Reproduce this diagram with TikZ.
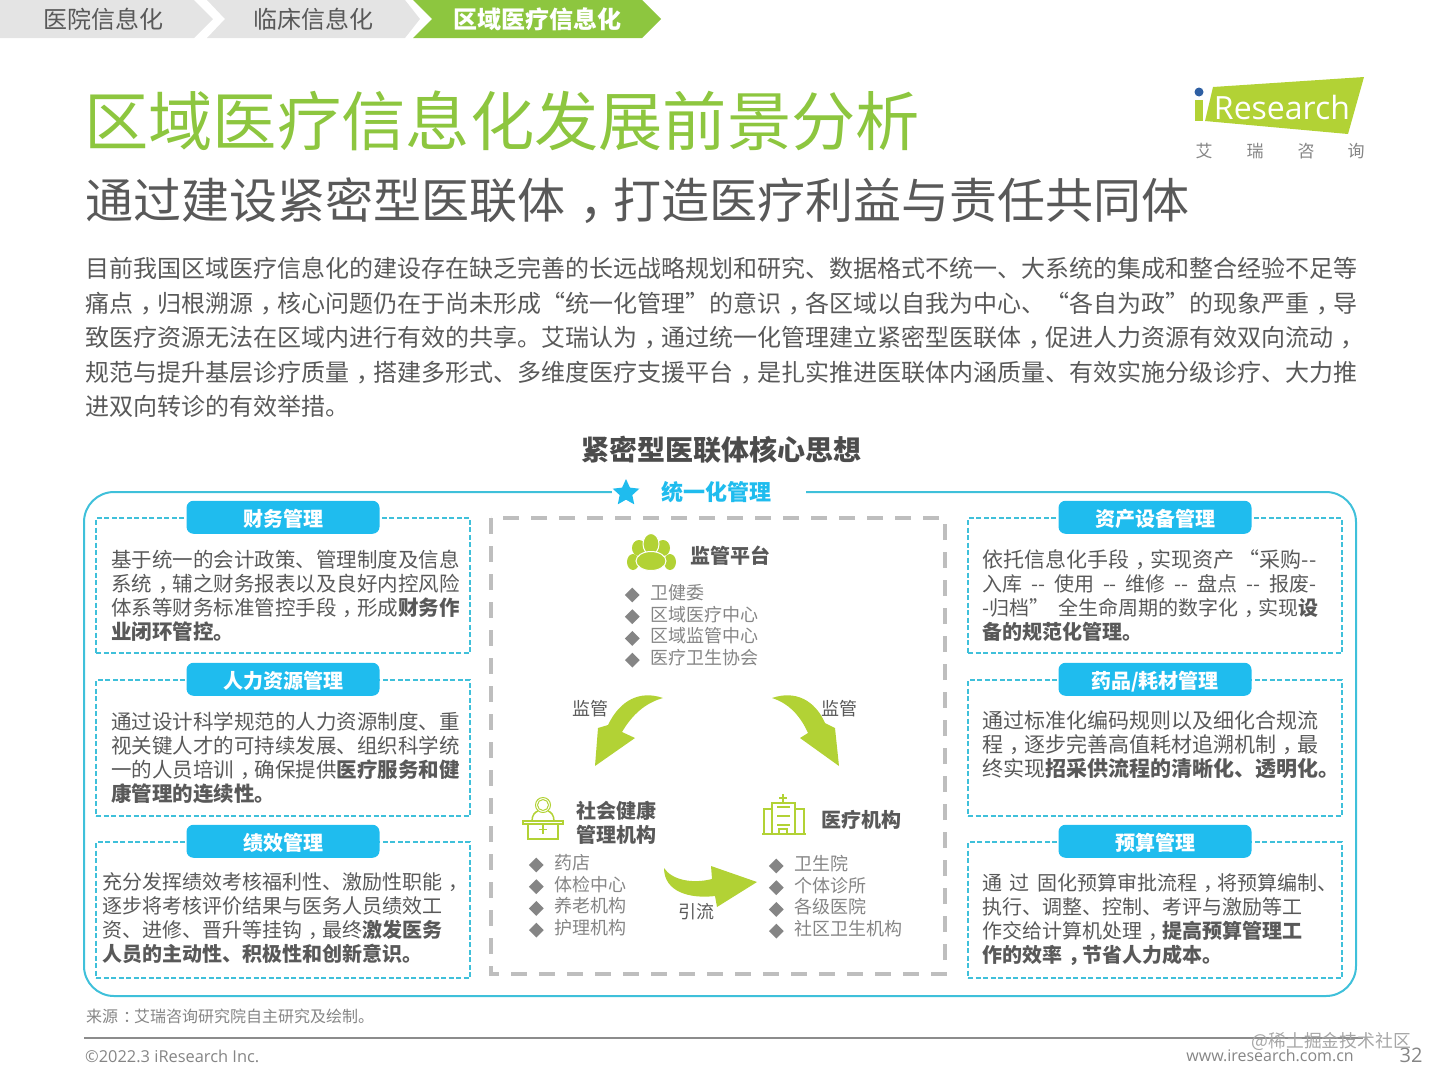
\documentclass[tikz,border=0pt]{standalone}
\usepackage{fontspec}
\setmainfont{Noto Sans CJK SC}
\newfontfamily\latinfont{Open Sans}
\usepackage{tikz}
\usetikzlibrary{shapes.geometric, positioning}
\definecolor{tabgray}{HTML}{E4E4E4}
\definecolor{tabgreen}{HTML}{8DC63F}
\definecolor{limegreen}{HTML}{B2D235}
\definecolor{skyblue}{HTML}{1FBCEE}
\definecolor{framecyan}{HTML}{3FC0DA}
\definecolor{bodygray}{HTML}{595959}
\definecolor{listgray}{HTML}{858585}
\definecolor{dashgray}{HTML}{BEBEBE}
\definecolor{logoblue}{HTML}{2E5FA3}
\newcommand{\pxfont}[2]{\fontsize{#1}{#2}\selectfont}
\newcommand{\dblhyph}{\kern4.5pt\ -{}-\ \kern4.5pt}
% full-width marks sit in the middle of their cell
\catcode`，=\active
\def，{\kern.3em\char"FF0C\kern-.3em}
\catcode`：=\active
\def：{\kern.3em\char"FF1A\kern-.3em}

\begin{document}
\begin{tikzpicture}[
  x=1pt, y=-1pt,
  lefttext/.style={anchor=west, inner sep=0pt, text=bodygray},
  tabtext/.style={inner sep=0pt, font=\pxfont{24}{28}, text=bodygray},
  dashbox/.style={
    rectangle, draw=framecyan, line width=1.5pt, dash pattern=on 5pt off 2.5pt,
    minimum width=374pt, minimum height=#1, inner sep=0pt,
  },
  tagbox/.style={
    rectangle, rounded corners=7pt, fill=skyblue, minimum width=193pt, minimum height=33pt,
    inner sep=0pt, text depth=2pt, text height=20pt,
    font=\pxfont{20}{24}\bfseries, text=white,
  },
  boxtext/.style={
    anchor=north west, inner sep=0pt, align=left, text=bodygray, font=\pxfont{#1}{24},
  },
  headtext/.style={
    anchor=west, inner sep=0pt, align=left, text=bodygray, font=\pxfont{20}{24}\bfseries,
  },
  itemtext/.style={
    anchor=west, inner sep=0pt, text=listgray, font=\pxfont{18}{21},
    text height=15pt, text depth=6.3pt,
  },
  bulletmark/.style={
    diamond, fill=listgray, minimum size=15pt, inner sep=0pt,
  },
  flowarrow/.style={fill=limegreen, draw=none},
  flowtext/.style={inner sep=0pt, text=bodygray, font=\pxfont{18}{21}},
  iconline/.style={draw=limegreen, line width=1.5pt, fill=none},
  node distance=0pt,
]
  \path[use as bounding box] (0,0) rectangle (1440,1080);

  % Tabs
  \fill[tabgray] (0,0) -- (194,0) -- (213,19) -- (194,38) -- (0,38) -- cycle;
  \fill[tabgray] (207,0) -- (405,0) -- (420,19) -- (405,38) -- (207,38) -- (225,19) -- cycle;
  \fill[tabgreen] (413,0) -- (642,0) -- (661,19) -- (642,38) -- (413,38) -- (432,19) -- cycle;
  \node[tabtext] (tab1) at (103,19) {医院信息化};
  \node[tabtext] (tab2) at (313,19) {临床信息化};
  \node[tabtext, text=white, font=\pxfont{24}{28}\bfseries] (tab3) at (537,19) {区域医疗信息化};

  % Titles
  \node[lefttext, text=tabgreen, font=\pxfont{64.3}{70}] (title) at (84,121) {区域医疗信息化发展前景分析};
  \node[lefttext, font=\pxfont{48}{54}] (subtitle) at (85,201) {通过建设紧密型医联体，打造医疗利益与责任共同体};

  % Logo
  \fill[limegreen] (1213,87) -- (1364,77) -- (1348,134) -- (1205,121) -- cycle;
  \fill[limegreen] (1195,100) -- (1203,100) -- (1203,121) -- (1195,121) -- cycle;
  \fill[logoblue] (1199,92) circle (4.5);
  \node[inner sep=0pt, text=white, font=\latinfont\pxfont{32}{36}] (logo) at (1282,107) {Research};
  \node[flowtext, text=listgray, font=\pxfont{17}{20}] (logo1) at (1204,151) {艾};
  \node[flowtext, text=listgray, font=\pxfont{17}{20}] (logo2) at (1255,151) {瑞};
  \node[flowtext, text=listgray, font=\pxfont{17}{20}] (logo3) at (1306,151) {咨};
  \node[flowtext, text=listgray, font=\pxfont{17}{20}] (logo4) at (1356,151) {询};

  % Intro
  \node[boxtext=24, font=\pxfont{24}{34.5}] (intro) at (85,257) {
    目前我国区域医疗信息化的建设存在缺乏完善的长远战略规划和研究、数据格式不统一、大系统的集成和整合经验不足等\\
    痛点，归根溯源，核心问题仍在于尚未形成“统一化管理”的意识，各区域以自我为中心、“各自为政”的现象严重，导\\
    致医疗资源无法在区域内进行有效的共享。艾瑞认为，通过统一化管理建立紧密型医联体，促进人力资源有效双向流动，\\
    规范与提升基层诊疗质量，搭建多形式、多维度医疗支援平台，是扎实推进医联体内涵质量、有效实施分级诊疗、大力推\\
    进双向转诊的有效举措。
  };
  \node[inner sep=0pt, text=bodygray!85!black, font=\pxfont{28}{32}\bfseries] (core) at (721,450) {紧密型医联体核心思想};

  % Outer frame
  \draw[draw=framecyan, line width=2pt, rounded corners=30pt] (84,492) rectangle (1356,996);
  \node[fill=white, minimum width=194pt, minimum height=30pt, inner sep=0pt] (gap) at (709,492) {};
  \node[star, star points=5, star point ratio=2.1, fill=skyblue, minimum size=28pt, inner sep=0pt] (star) at (626,493) {};
  \node[inner sep=0pt, text=skyblue, font=\pxfont{22}{26}\bfseries] (unified) at (716,492) {统一化管理};

  % Left column
  \node[dashbox=135pt] (fin) at (283,585.5) {};
  \node[tagbox] (fintag) at (fin.north) {财务管理};
  \node[boxtext=20.5] (fintext) at (111,549.5) {
    基于统一的会计政策、管理制度及信息\\
    系统，辅之财务报表以及良好内控风险\\
    体系等财务标准管控手段，形成\textbf{财务作}\\
    \textbf{业闭环管控。}
  };
  \node[dashbox=136pt] (hr) at (283,748) {};
  \node[tagbox] (hrtag) at (hr.north) {人力资源管理};
  \node[boxtext=20.5] (hrtext) at (111,711.5) {
    通过设计科学规范的人力资源制度、重\\
    视关键人才的可持续发展、组织科学统\\
    一的人员培训，确保提供\textbf{医疗服务和健}\\
    \textbf{康管理的连续性。}
  };
  \node[dashbox=136pt] (perf) at (283,910) {};
  \node[tagbox] (perftag) at (perf.north) {绩效管理};
  \node[boxtext=20] (perftext) at (102.5,872.5) {
    充分发挥绩效考核福利性、激励性职能，\\
    逐步将考核评价结果与医务人员绩效工\\
    资、进修、晋升等挂钩，最终\textbf{激发医务}\\
    \textbf{人员的主动性、积极性和创新意识。}
  };

  % Right column
  \node[dashbox=135pt] (asset) at (1155,585.5) {};
  \node[tagbox] (assettag) at (asset.north) {资产设备管理};
  \node[boxtext=20] (assettext) at (982,549) {
    {\pxfont{21}{24}依托信息化手段，实现资产 “采购-{}-}\\
    入库\dblhyph 使用\dblhyph 维修\dblhyph 盘点\dblhyph 报废-\\
    -归档”\kern5pt\ 全生命周期的数字化，实现\textbf{设}\\
    \textbf{备的规范化管理。}
  };
  \node[dashbox=136pt] (drug) at (1155,748) {};
  \node[tagbox] (drugtag) at (drug.north) {药品/耗材管理};
  \node[boxtext=21] (drugtext) at (982,711) {
    通过标准化编码规则以及细化合规流\\
    程，逐步完善高值耗材追溯机制，最\\
    终实现\textbf{招采供流程的清晰化、透明化。}
  };
  \node[dashbox=136pt] (budget) at (1155,910) {};
  \node[tagbox] (budgettag) at (budget.north) {预算管理};
  \node[boxtext=20] (budgettext) at (982,873.5) {
    通\kern3pt\ 过\kern3pt\ 固化预算审批流程，将预算编制、\\
    执行、调整、控制、考评与激励等工\\
    作交给计算机处理，\textbf{提高预算管理工}\\
    \textbf{作的效率，节省人力成本。}
  };

  % Centre panel
  \draw[draw=dashgray, line width=4pt, dash pattern=on 16pt off 12pt] (491,518) rectangle (945,974);

  % Platform
  \fill[limegreen] (639,548) ellipse (7 and 8);
  \fill[limegreen] (663,548) ellipse (7 and 8);
  \fill[limegreen] (633,562) ellipse (6 and 8);
  \fill[limegreen] (670,562) ellipse (6 and 8);
  \filldraw[fill=limegreen, draw=white, line width=1pt] (651,544) ellipse (8 and 10.5);
  \filldraw[fill=limegreen, draw=white, line width=1pt] (651,561) ellipse (15 and 9.5);
  \node[headtext] (plat) at (690,556) {监管平台};
  \node[itemtext] (p1) at (650,595) {卫健委};
  \node[itemtext, below=of p1.south west, anchor=north west] (p2) {区域医疗中心};
  \node[itemtext, below=of p2.south west, anchor=north west] (p3) {区域监管中心};
  \node[itemtext, below=of p3.south west, anchor=north west] (p4) {医疗卫生协会};
  \node[bulletmark, left=10pt of p1] (pb1) {};
  \node[bulletmark, left=10pt of p2] (pb2) {};
  \node[bulletmark, left=10pt of p3] (pb3) {};
  \node[bulletmark, left=10pt of p4] (pb4) {};

  % Social health
  \draw[iconline, line width=1pt] (543,805) circle (5.5);
  \draw[iconline, line width=1pt] (543,805) circle (7.5);
  \draw[iconline] (532,821) .. controls (532,815) and (535,812) .. (538,811);
  \draw[iconline] (554,821) .. controls (554,815) and (551,812) .. (548,811);
  \draw[iconline] (523,821) rectangle (563,824);
  \draw[iconline] (528,824) rectangle (558,839);
  \draw[iconline] (543,825) -- (543,834) (539,829.5) -- (547,829.5);
  \node[headtext] (social) at (576,823) {社会健康\\管理机构};
  \node[itemtext] (s1) at (554,865) {药店};
  \node[itemtext, below=of s1.south west, anchor=north west] (s2) {体检中心};
  \node[itemtext, below=of s2.south west, anchor=north west] (s3) {养老机构};
  \node[itemtext, below=of s3.south west, anchor=north west] (s4) {护理机构};
  \node[bulletmark, left=10pt of s1] (sb1) {};
  \node[bulletmark, left=10pt of s2] (sb2) {};
  \node[bulletmark, left=10pt of s3] (sb3) {};
  \node[bulletmark, left=10pt of s4] (sb4) {};

  % Medical institutions
  \draw[iconline] (762,834) -- (806,834);
  \draw[iconline] (772,834) -- (772,803) -- (795,803) -- (795,834);
  \draw[iconline] (764,834) -- (764,809) -- (772,809);
  \draw[iconline] (795,809) -- (804,809) -- (804,834);
  \draw[iconline] (777,807) -- (790,807) (777,816) -- (790,816) (777,825) -- (790,825);
  \draw[iconline] (779,834) -- (779,829) -- (787,829) -- (787,834);
  \draw[iconline] (783,794) -- (783,803) (779,798) -- (787,798);
  \node[headtext] (med) at (821,820) {医疗机构};
  \node[itemtext] (m1) at (794,866) {卫生院};
  \node[itemtext, below=of m1.south west, anchor=north west] (m2) {个体诊所};
  \node[itemtext, below=of m2.south west, anchor=north west] (m3) {各级医院};
  \node[itemtext, below=of m3.south west, anchor=north west] (m4) {社区卫生机构};
  \node[bulletmark, left=10pt of m1] (mb1) {};
  \node[bulletmark, left=10pt of m2] (mb2) {};
  \node[bulletmark, left=10pt of m3] (mb3) {};
  \node[bulletmark, left=10pt of m4] (mb4) {};

  % Block arrows
  \fill[flowarrow] (663,698) .. controls (640,690) and (620,700) .. (608,725) -- (598,728)
    -- (595,766) -- (635,738) -- (622,732) .. controls (632,715) and (645,703) .. (663,698) -- cycle;
  \fill[flowarrow] (772,698) .. controls (795,690) and (815,700) .. (825,723) -- (835,728)
    -- (839,766) -- (800,738) -- (808,733) .. controls (800,715) and (788,703) .. (772,698) -- cycle;
  \fill[flowarrow] (664,868) .. controls (672,880) and (692,884) .. (712,879) -- (711,866)
    -- (757,882) -- (717,907) -- (715,896) .. controls (690,899) and (664,892) .. (664,868) -- cycle;
  \node[flowtext] (sup1) at (590,709) {监管};
  \node[flowtext] (sup2) at (839,709) {监管};
  \node[flowtext] (drain) at (696,912) {引流};

  % Footer
  \node[lefttext, text=listgray, font=\pxfont{16}{20}] (source) at (86,1016) {来源：艾瑞咨询研究院自主研究及绘制。};
  \coordinate (ruleL) at (84,1038);
  \coordinate (ruleR) at (1363,1038);
  \draw[draw=black!45, line width=1.5pt] (ruleL) -- (ruleR);
  \node[lefttext, text=listgray, font=\latinfont\pxfont{16.4}{20}] (copy) at (85,1056) {©2022.3 iResearch Inc.};
  \node[inner sep=0pt, text=listgray, anchor=east, font=\latinfont\pxfont{16}{20}] (web) at (1354,1056) {www.iresearch.com.cn};
  \node[inner sep=0pt, text=listgray, font=\latinfont\pxfont{20}{24}] (page) at (1411,1055) {32};
  \node[inner sep=0pt, text=black!35, anchor=east, font=\pxfont{17.8}{22}] (mark) at (1411,1041) {@稀土掘金技术社区};
\end{tikzpicture}
\end{document}
